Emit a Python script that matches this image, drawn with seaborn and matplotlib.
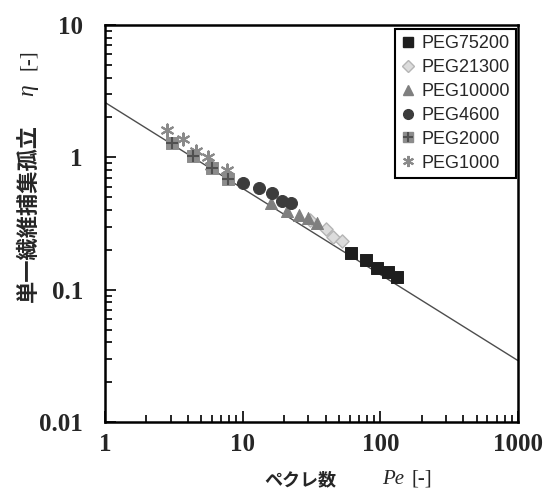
import matplotlib
matplotlib.use("Agg")
import matplotlib.pyplot as plt
import seaborn as sns
from matplotlib.lines import Line2D
from matplotlib.ticker import NullFormatter

sns.set_style("white")
plt.rcParams['font.family'] = ['Liberation Serif', 'Noto Sans CJK JP']

# data (Pe, eta)
pe_75200 = [61, 79, 95, 114, 132]
eta_75200 = [0.189, 0.167, 0.146, 0.136, 0.125]

pe_21300 = [31, 40.5, 45, 53]
eta_21300 = [0.335, 0.287, 0.25, 0.233]

pe_10000 = [16, 21, 25.6, 29.8, 34.7]
eta_10000 = [0.452, 0.393, 0.366, 0.348, 0.319]

pe_4600 = [10, 13.1, 16.3, 19.3, 22.4]
eta_4600 = [0.64, 0.586, 0.537, 0.468, 0.452]

pe_2000 = [3.07, 4.36, 6.0, 7.8]
eta_2000 = [1.28, 1.02, 0.83, 0.685]

pe_1000 = [2.8, 3.7, 4.6, 5.6, 5.9, 7.7]
eta_1000 = [1.62, 1.38, 1.12, 1.0, 0.86, 0.80]

# fitted line end points
line_pe = [1, 1000]
line_eta = [2.6, 0.0291]

x_ticks = [1, 10, 100, 1000]
x_tick_labels = ['1', '10', '100', '1000']
y_ticks = [0.01, 0.1, 1, 10]
y_tick_labels = ['0.01', '0.1', '1', '10']

W, H = 548, 494
fig = plt.figure(figsize=(W / 100, H / 100), dpi=100)
ax = fig.add_axes([105 / W, 1 - 422 / H, 413 / W, 397 / H])
ax.set_xscale('log')
ax.set_yscale('log')

sns.lineplot(x=line_pe, y=line_eta, color='#4d4d4d', linewidth=1, ax=ax)

ms = 75
sns.scatterplot(x=pe_75200, y=eta_75200, marker='s', s=ms, color='#1e1e1e',
                edgecolor='#1e1e1e', ax=ax, zorder=3)
sns.scatterplot(x=pe_21300, y=eta_21300, marker='D', s=45, color='#dcdcdc',
                edgecolor='#b5b5b5', linewidth=1, ax=ax, zorder=3)
sns.scatterplot(x=pe_10000, y=eta_10000, marker='^', s=ms, color='#7f7f7f',
                edgecolor='#7f7f7f', ax=ax, zorder=3)
sns.scatterplot(x=pe_4600, y=eta_4600, marker='o', s=ms, color='#3c3c3c',
                edgecolor='#3c3c3c', ax=ax, zorder=3)
sns.scatterplot(x=pe_2000, y=eta_2000, marker='s', s=ms, color='#8c8c8c',
                edgecolor='#8c8c8c', ax=ax, zorder=3)
sns.scatterplot(x=pe_2000, y=eta_2000, marker='+', s=ms, color='#505050',
                linewidth=1.5, ax=ax, zorder=4)
sns.scatterplot(x=pe_1000, y=eta_1000, marker=(6, 2, 0), s=ms, color='#8a8a8a',
                edgecolor='#8a8a8a', linewidth=1.5, ax=ax, zorder=3)

ax.set_xlim(1, 1000)
ax.set_ylim(0.01, 10)
ax.set_xticks(x_ticks, labels=x_tick_labels)
ax.set_yticks(y_ticks, labels=y_tick_labels)
ax.xaxis.set_minor_formatter(NullFormatter())
ax.yaxis.set_minor_formatter(NullFormatter())
ax.tick_params(which='both', direction='in', bottom=True, left=True,
               top=False, right=False, color='black', width=1.2)
ax.tick_params(which='major', length=8)
ax.tick_params(which='minor', length=5)
ax.tick_params(axis='x', pad=8, labelsize=18)
ax.tick_params(axis='y', pad=16, labelsize=18)
for lbl in ax.get_xticklabels() + ax.get_yticklabels():
    lbl.set_fontweight('bold')
for sp in ax.spines.values():
    sp.set_color('black')
    sp.set_linewidth(1.8)
ax.set_xlabel('')
ax.set_ylabel('')

handles = [
    Line2D([], [], ls='', marker='s', ms=7, color='#1e1e1e'),
    Line2D([], [], ls='', marker='D', ms=6, color='#dcdcdc', mec='#b5b5b5'),
    Line2D([], [], ls='', marker='^', ms=7, color='#7f7f7f'),
    Line2D([], [], ls='', marker='o', ms=7, color='#3c3c3c'),
    (Line2D([], [], ls='', marker='s', ms=7, color='#8c8c8c'),
     Line2D([], [], ls='', marker='+', ms=7, mew=1.5, color='#505050')),
    Line2D([], [], ls='', marker=(6, 2, 0), ms=8, mew=1.5, color='#8a8a8a'),
]
labels = ['PEG75200', 'PEG21300', 'PEG10000', 'PEG4600', 'PEG2000', 'PEG1000']
leg = ax.legend(handles, labels, loc='upper right', bbox_to_anchor=(0.995, 0.99),
                borderaxespad=0, fancybox=False, edgecolor='black', framealpha=1,
                prop={'family': 'Liberation Sans', 'size': 13},
                handlelength=0.8, handletextpad=0.3, labelspacing=0.38,
                borderpad=0.35)
leg.get_frame().set_linewidth(1.5)

# axis titles
fig.text(28 / W, 1 - 213 / H, '単一繊維捕集孤立', rotation=90, ha='center', va='center',
         family='Noto Sans CJK JP', weight='bold', size=16)
fig.text(28 / W, 1 - 90 / H, 'η', rotation=90, ha='center', va='center',
         family='Liberation Serif', style='italic', size=17)
fig.text(28 / W, 1 - 60 / H, '[-]', rotation=90, ha='center', va='center',
         family='Liberation Serif', size=15)

fig.text(300 / W, 1 - 480 / H, 'ペクレ数', ha='center', va='center',
         family='Noto Sans CJK JP', weight='bold', size=13)
fig.text(393 / W, 1 - 479 / H, 'Pe', ha='center', va='center',
         family='Liberation Serif', style='italic', size=15)
fig.text(422 / W, 1 - 479 / H, '[-]', ha='center', va='center',
         family='Liberation Serif', size=15)

fig.savefig('out.png', dpi=100)
